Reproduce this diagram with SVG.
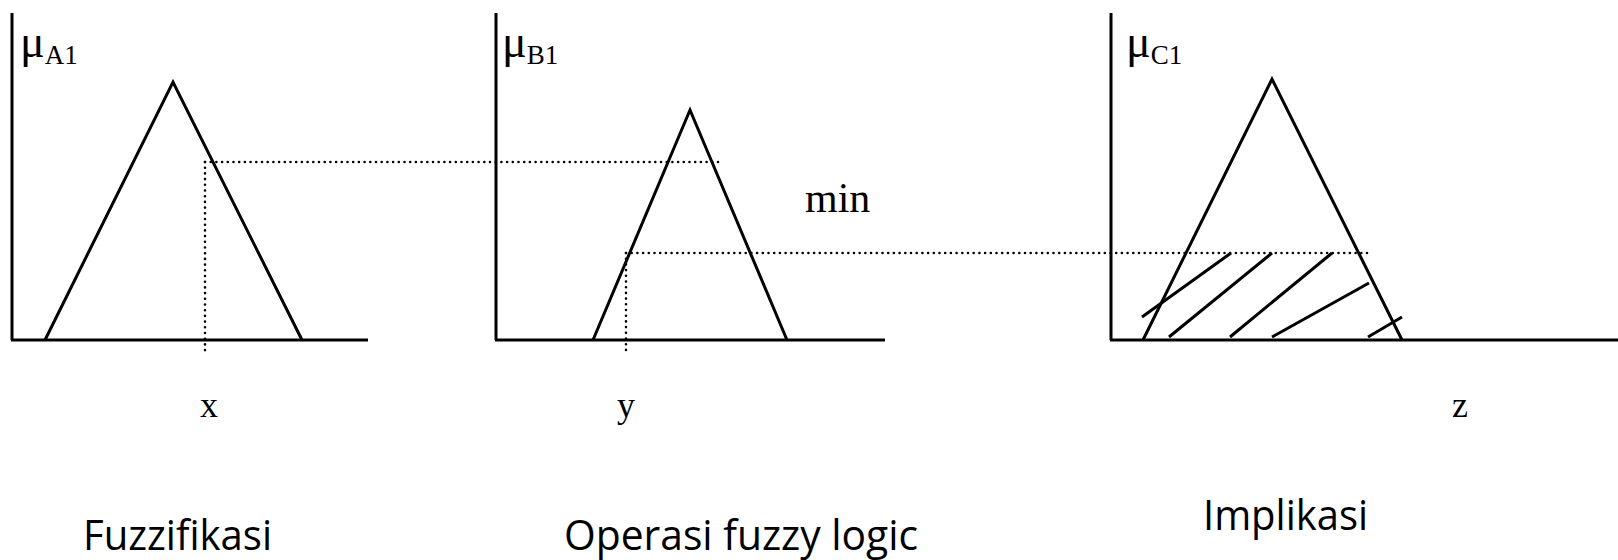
<svg xmlns="http://www.w3.org/2000/svg" width="1618" height="560" viewBox="0 0 1618 560">
<style>
.ax{stroke:#000;stroke-width:3;fill:none}
.tri{stroke:#000;stroke-width:3;fill:none;stroke-linejoin:miter}
.dot{stroke:#000;stroke-width:2.6;fill:none;stroke-dasharray:0 5.7;stroke-linecap:round}
.hat{stroke:#000;stroke-width:3;fill:none}
.mu{font-family:"Liberation Serif",serif;font-size:46px;fill:#000}
.sub{font-family:"Liberation Serif",serif;font-size:27px;fill:#000}
.var{font-family:"Liberation Serif",serif;font-size:36px;fill:#000}
.cap{font-family:"Open Sans","Liberation Sans",sans-serif;font-size:42px;fill:#000}
</style>
<rect width="1618" height="560" fill="#fff"/>
<g id="panel-fuzzifikasi">
<line class="ax" x1="12" y1="13" x2="12" y2="340"/>
<line class="ax" x1="11" y1="340" x2="368" y2="340"/>
<polyline class="tri" points="45,340 173,82 302,340"/>
<text x="20" y="57" class="mu">μ<tspan class="sub" dy="7">A1</tspan></text>
<text x="209" y="417" class="var" text-anchor="middle">x</text>
<text x="83" y="550" class="cap" textLength="189" lengthAdjust="spacingAndGlyphs">Fuzzifikasi</text>
</g>
<g id="panel-operasi">
<line class="ax" x1="496" y1="13" x2="496" y2="340"/>
<line class="ax" x1="495" y1="340" x2="885" y2="340"/>
<polyline class="tri" points="593,340 690,110 787,340"/>
<text x="502" y="57" class="mu">μ<tspan class="sub" dy="7">B1</tspan></text>
<text x="805" y="212" class="var" style="font-size:42px">min</text>
<text x="626" y="417" class="var" text-anchor="middle">y</text>
<text x="564" y="550" class="cap" textLength="354" lengthAdjust="spacingAndGlyphs">Operasi fuzzy logic</text>
</g>
<g id="panel-implikasi">
<line class="ax" x1="1111" y1="13" x2="1111" y2="340"/>
<line class="ax" x1="1110" y1="340" x2="1618" y2="340"/>
<polyline class="tri" points="1143,340 1272,79 1402,340"/>
<g id="hatch">
<line class="hat" x1="1142" y1="317" x2="1231" y2="253"/>
<line class="hat" x1="1169" y1="337" x2="1272" y2="253"/>
<line class="hat" x1="1230" y1="337" x2="1332" y2="253"/>
<line class="hat" x1="1272" y1="337" x2="1369" y2="283"/>
<line class="hat" x1="1368" y1="337" x2="1402" y2="317"/>
</g>
<text x="1126" y="57" class="mu">μ<tspan class="sub" dy="7">C1</tspan></text>
<text x="1460" y="417" class="var" text-anchor="middle">z</text>
<text x="1203" y="530" class="cap" textLength="165" lengthAdjust="spacingAndGlyphs">Implikasi</text>
</g>
<g id="connectors">
<line class="dot" x1="205" y1="162" x2="718" y2="162"/>
<line class="dot" x1="205" y1="162" x2="205" y2="352"/>
<line class="dot" x1="626" y1="253" x2="1367" y2="253"/>
<line class="dot" x1="626" y1="253" x2="626" y2="352"/>
</g>
</svg>
